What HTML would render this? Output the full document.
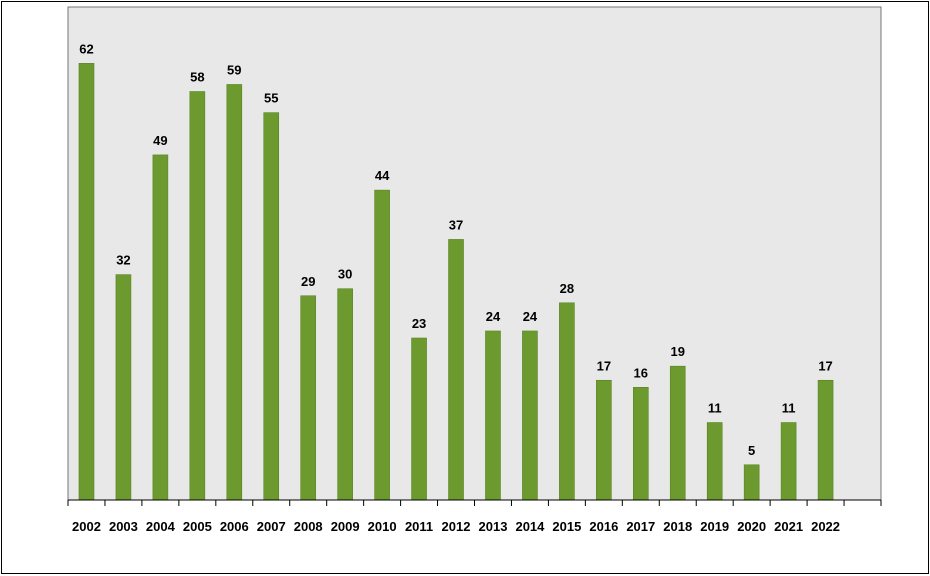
<!DOCTYPE html>
<html><head><meta charset="utf-8"><style>
html,body{margin:0;padding:0;background:#fff;}
svg{display:block;font-family:"Liberation Sans",Verdana,sans-serif;}
</style></head><body>
<svg width="930" height="576" viewBox="0 0 930 576">
<rect x="1.5" y="1.5" width="927" height="572" fill="#fff" stroke="#000" stroke-width="1"/>
<rect x="68" y="7" width="813" height="493" fill="#e8e8e8" stroke="#555" stroke-width="0.8"/>
<g id="bars"></g>
<g id="xaxis"></g>
</svg>
<script>
const categories = ["2002","2003","2004","2005","2006","2007","2008","2009","2010","2011","2012","2013","2014","2015","2016","2017","2018","2019","2020","2021","2022"];
const values = [62,32,49,58,59,55,29,30,44,23,37,24,24,28,17,16,19,11,5,11,17];
const yMax = 70;
const slots = 22;
const X0=68, X1=881, Y0=500, Y1=7;
const slotW=(X1-X0)/slots;
const xCenter=i=>X0+slotW*(i+0.5);
const y=v=>Y0-(v/yMax)*(Y0-Y1);
const NS="http://www.w3.org/2000/svg";
const bars=document.getElementById('bars');
const xa=document.getElementById('xaxis');
values.forEach((v,i)=>{
  const r=document.createElementNS(NS,'rect');
  
  
  r.setAttribute('x',xCenter(i)-7.5);r.setAttribute('width',15);
  r.setAttribute('y',y(v));r.setAttribute('height',Y0-y(v));
  r.setAttribute('fill','#6d9a2e');r.setAttribute('stroke','#5a8424');r.setAttribute('stroke-width','0.6');
  bars.appendChild(r);
  const t=document.createElementNS(NS,'text');
  
  
  t.setAttribute('x',xCenter(i));t.setAttribute('y',y(v)-10);
  t.setAttribute('text-anchor','middle');t.setAttribute('font-size','13');t.setAttribute('font-weight','bold');
  t.textContent=v;bars.appendChild(t);
  const c=document.createElementNS(NS,'text');
  
  
  c.setAttribute('x',xCenter(i));c.setAttribute('y',531);
  c.setAttribute('text-anchor','middle');c.setAttribute('font-size','13');c.setAttribute('font-weight','bold');
  c.textContent=categories[i];xa.appendChild(c);
});
const base=document.createElementNS(NS,'line');


base.setAttribute('x1',X0);base.setAttribute('x2',X1);base.setAttribute('y1',Y0);base.setAttribute('y2',Y0);
base.setAttribute('stroke','#000');xa.appendChild(base);
for(let k=0;k<=slots;k++){
  const l=document.createElementNS(NS,'line');
  
  
  const x=X0+slotW*k;
  l.setAttribute('x1',x);l.setAttribute('x2',x);l.setAttribute('y1',Y0);l.setAttribute('y2',Y0+6);
  l.setAttribute('stroke','#000');xa.appendChild(l);
}
</script>
</body></html>
